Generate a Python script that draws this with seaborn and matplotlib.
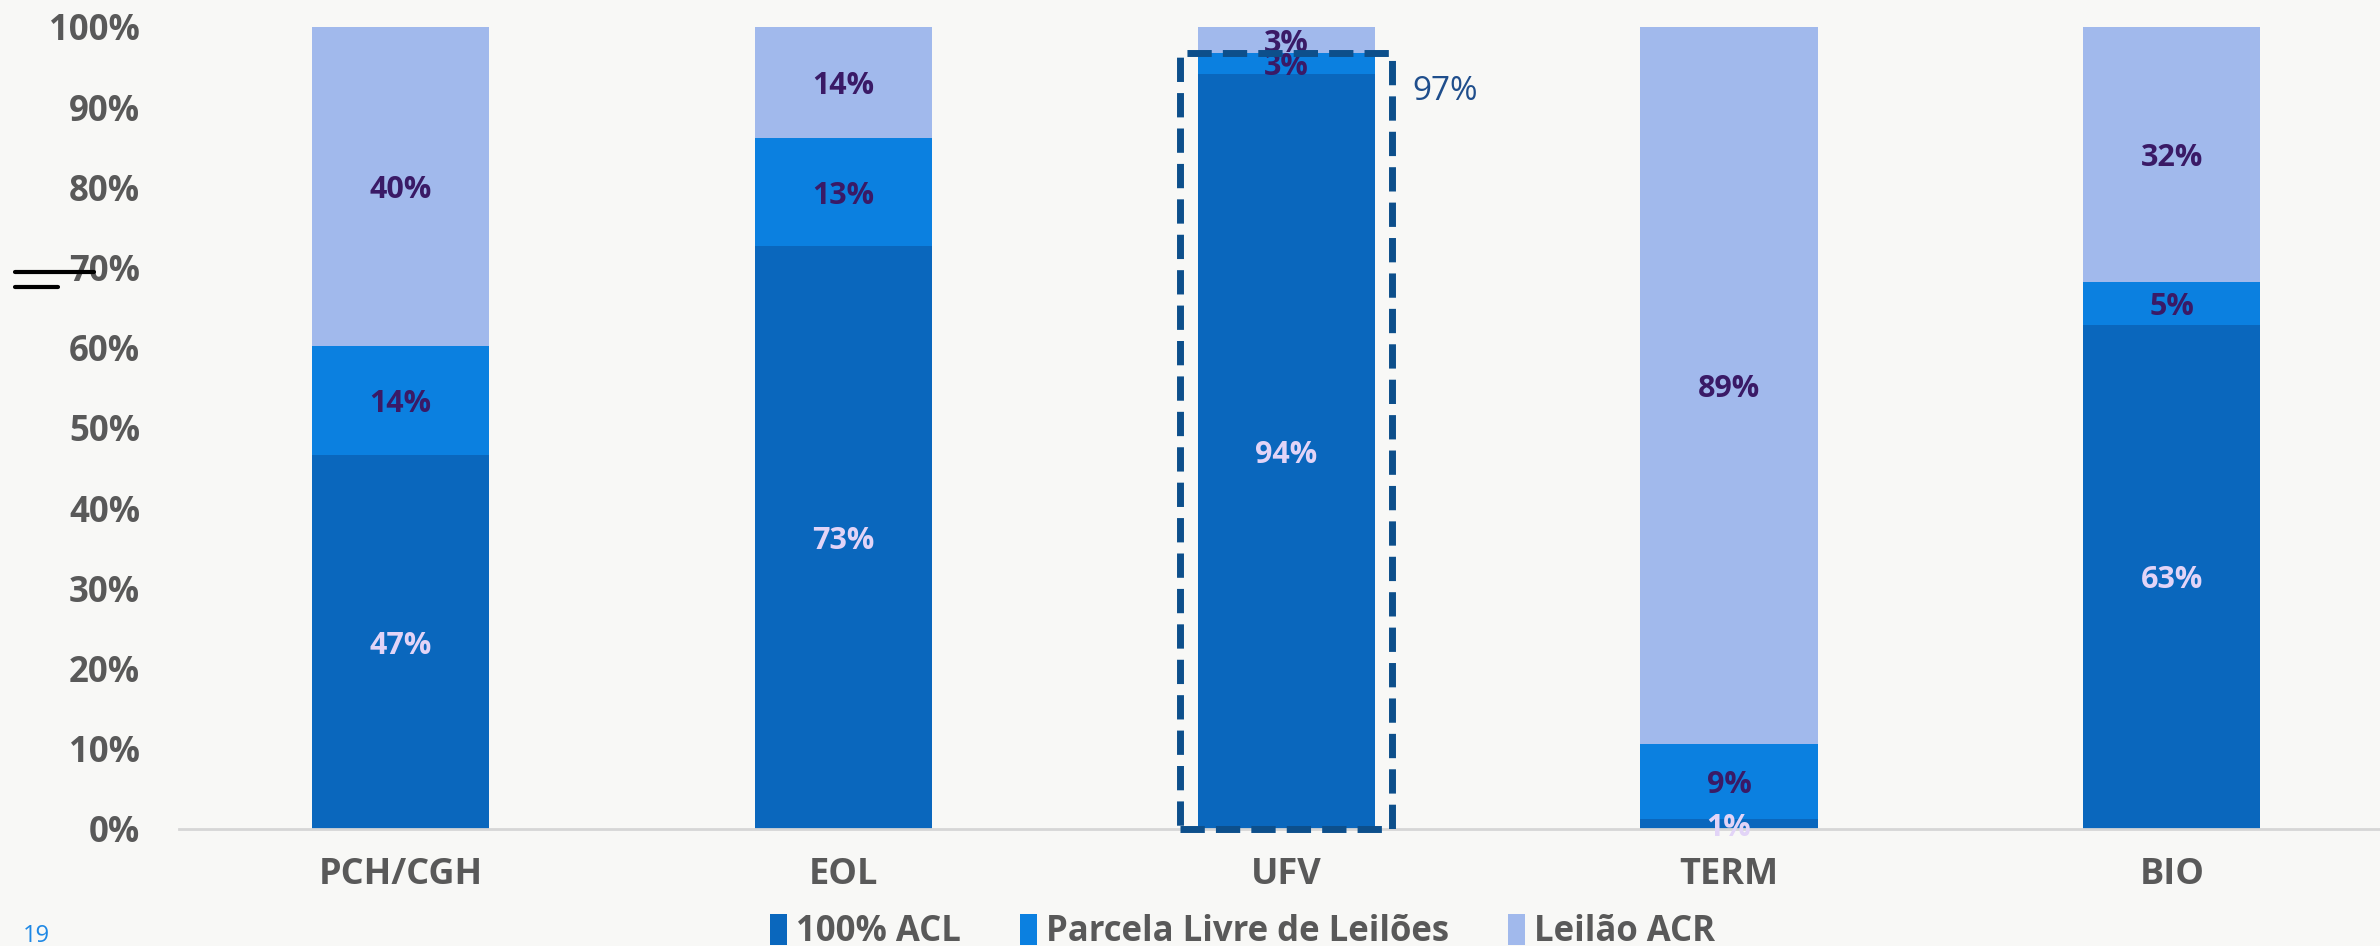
import numpy as np
import pandas as pd
import matplotlib
matplotlib.use("Agg")
import matplotlib.pyplot as plt
import seaborn as sns
from matplotlib.patches import Patch, Rectangle
from matplotlib.lines import Line2D

# data (percent of each source)
categories = ['PCH/CGH', 'EOL', 'UFV', 'TERM', 'BIO']
acl = [46.6, 72.7, 94.1, 1.2, 62.9]        # 100% ACL
parcela = [13.6, 13.4, 2.6, 9.4, 5.3]      # Parcela Livre de Leilões
acr = [39.8, 13.9, 3.3, 89.4, 31.8]        # Leilão ACR
series_names = ['100% ACL', 'Parcela Livre de Leilões', 'Leilão ACR']
highlight = 'UFV'

colors = ['#0A67BD', '#0B80E0', '#A1B9EC']
label_colors = ['#E2D4F7', '#3A1A66', '#3A1A66']
bg = '#F8F8F6'
grey = '#595959'

sns.set_style('white')
plt.rcParams['font.family'] = ['Open Sans', 'DejaVu Sans']

df = pd.DataFrame({'cat': categories, 'acl': acl, 'parcela': parcela, 'acr': acr})
df['c1'] = df['acl']
df['c2'] = df['acl'] + df['parcela']
df['c3'] = df['c2'] + df['acr']

fig = plt.figure(figsize=(23.8, 9.46), dpi=100, facecolor=bg)
ax = fig.add_axes([0.0752, 0.1237, 0.9248, 0.8478])
ax.set_facecolor(bg)

# stacked bars by overlaying the cumulative totals
for col, c in zip(['c3', 'c2', 'c1'], colors[::-1]):
    sns.barplot(data=df, x='cat', y=col, color=c, width=0.4, saturation=1,
                ax=ax, errorbar=None, edgecolor='none', linewidth=0)

# segment labels
for i, row in df.iterrows():
    bottoms = [0, row['c1'], row['c2']]
    vals = [row['acl'], row['parcela'], row['acr']]
    for b, v, lc in zip(bottoms, vals, label_colors):
        ax.text(i, b + v / 2, f"{v:.0f}%", ha='center', va='center_baseline',
                fontsize=22, fontweight='bold', color=lc)

# dashed box around the highlighted bar
hi = categories.index(highlight)
top = df.loc[hi, 'c2']
ax.add_patch(Rectangle((hi - 0.24, 0), 0.48, top, fill=False, ls=(0, (3.5, 1.6)),
                       lw=5, edgecolor='#0D4F8B', zorder=5, clip_on=False))
ax.text(hi + 0.285, top - 4.2, f"{top:.0f}%", fontsize=24, color='#1F4E8C',
        ha='left', va='center_baseline')

ax.set_ylim(0, 100)
ax.set_xlim(-0.5, 4.47)
ax.set_yticks(np.arange(0, 101, 10))
ax.set_yticklabels([f"{t}%" for t in range(0, 101, 10)], fontsize=25,
                   fontweight='bold', color=grey)
ax.set_xticks(range(len(categories)))
ax.set_xticklabels(categories, fontsize=26, fontweight='bold', color=grey)
ax.tick_params(axis='y', length=0, pad=28)
ax.tick_params(axis='x', length=0, pad=20)
ax.set_xlabel('')
ax.set_ylabel('')
for s in ['top', 'right', 'left']:
    ax.spines[s].set_visible(False)
ax.spines['bottom'].set_color('#D6D6D6')
ax.spines['bottom'].set_linewidth(2)

handles = [Patch(facecolor=c, edgecolor='none', label=n) for c, n in zip(colors, series_names)]
leg = fig.legend(handles=handles, loc='center', bbox_to_anchor=(0.522, 0.015), ncol=3,
                 frameon=False, handlelength=0.5, handleheight=1.0, handletextpad=0.25,
                 columnspacing=1.7, prop={'size': 25, 'weight': 'bold'})
for t in leg.get_texts():
    t.set_color(grey)

# slide decorations
fig.text(0.0097, 0.011, '19', fontsize=17, color='#1E88E5', ha='left', va='center')
fig.add_artist(Line2D([15 / 2380, 94 / 2380], [1 - 272 / 946] * 2, color='black', lw=3))
fig.add_artist(Line2D([15 / 2380, 58 / 2380], [1 - 287 / 946] * 2, color='black', lw=3))

fig.savefig('out.png', dpi=100, facecolor=bg)
